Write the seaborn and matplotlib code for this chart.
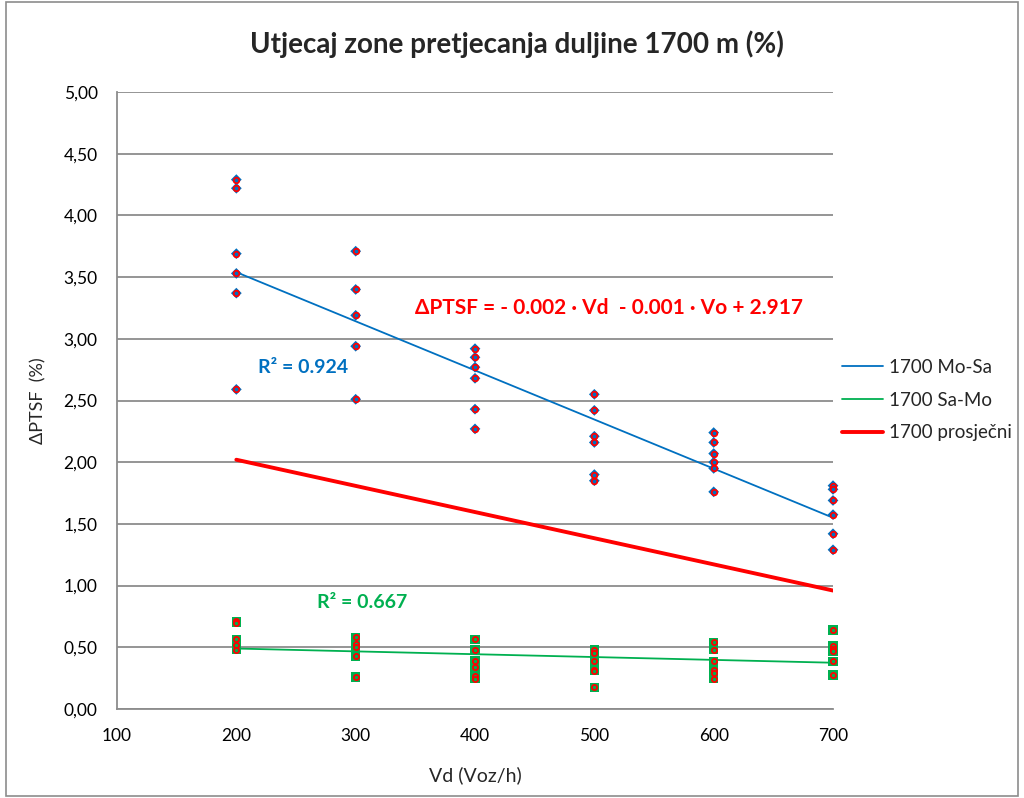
import numpy as np
import pandas as pd
import matplotlib.pyplot as plt
import seaborn as sns
from matplotlib.patches import Rectangle

# Measured points, 1700 m overtaking zone
mosa_vd = [200] * 6 + [300] * 5 + [400] * 6 + [500] * 6 + [600] * 6 + [700] * 6
mosa_ptsf = [4.29, 4.22, 3.69, 3.53, 3.37, 2.59,
             3.71, 3.40, 3.19, 2.94, 2.51,
             2.92, 2.85, 2.77, 2.68, 2.43, 2.27,
             2.55, 2.42, 2.21, 2.16, 1.90, 1.85,
             2.24, 2.16, 2.07, 2.00, 1.95, 1.76,
             1.81, 1.78, 1.69, 1.575, 1.42, 1.29]

samo_vd = [200] * 5 + [300] * 5 + [400] * 6 + [500] * 6 + [600] * 6 + [700] * 6
samo_ptsf = [0.71, 0.70, 0.565, 0.52, 0.48,
             0.58, 0.53, 0.505, 0.43, 0.26,
             0.565, 0.48, 0.39, 0.34, 0.27, 0.245,
             0.48, 0.45, 0.39, 0.32, 0.31, 0.175,
             0.54, 0.48, 0.385, 0.32, 0.29, 0.245,
             0.64, 0.51, 0.49, 0.47, 0.385, 0.275]

# Trend lines (end points)
trend_vd = [200, 700]
mosa_trend = [3.54, 1.55]
samo_trend = [0.49, 0.375]
prosjecni_trend = [2.02, 0.96]

xticks = [100, 200, 300, 400, 500, 600, 700]
yticks = [0, 0.5, 1, 1.5, 2, 2.5, 3, 3.5, 4, 4.5, 5]
ytick_labels = ['0,00', '0,50', '1,00', '1,50', '2,00', '2,50', '3,00', '3,50', '4,00', '4,50', '5,00']

blue = '#0070C0'
green = '#00B050'
red = '#FF0000'
grid_gray = '#8C8C8C'

sns.set_style('white')
plt.rcParams['font.family'] = ['Lato', 'DejaVu Sans']

fig = plt.figure(figsize=(10.24, 7.98), dpi=100)
ax = fig.add_axes([117 / 1024, 1 - 709 / 798, (833 - 117) / 1024, (709 - 92) / 798])

df_mosa = pd.DataFrame({'Vd': mosa_vd, 'PTSF': mosa_ptsf})
df_samo = pd.DataFrame({'Vd': samo_vd, 'PTSF': samo_ptsf})

# markers: blue diamond / green square with red ring
sns.scatterplot(data=df_mosa, x='Vd', y='PTSF', marker='D', color=blue, s=30,
                edgecolor='none', ax=ax, zorder=4, clip_on=False)
sns.scatterplot(data=df_mosa, x='Vd', y='PTSF', marker='o', color=blue, s=16,
                edgecolor=red, linewidth=1.3, ax=ax, zorder=5, clip_on=False)
sns.scatterplot(data=df_samo, x='Vd', y='PTSF', marker='s', color=green, s=46,
                edgecolor='none', ax=ax, zorder=4, clip_on=False)
sns.scatterplot(data=df_samo, x='Vd', y='PTSF', marker='o', color=green, s=14,
                edgecolor=red, linewidth=1.3, ax=ax, zorder=5, clip_on=False)

sns.lineplot(x=trend_vd, y=mosa_trend, color=blue, lw=1.3, ax=ax, zorder=3, label='1700 Mo-Sa')
sns.lineplot(x=trend_vd, y=samo_trend, color=green, lw=1.3, ax=ax, zorder=3, label='1700 Sa-Mo')
sns.lineplot(x=trend_vd, y=prosjecni_trend, color=red, lw=2.8, ax=ax, zorder=3, label='1700 prosječni')

ax.set_xlim(100, 700)
ax.set_ylim(0, 5)
ax.set_xticks(xticks)
ax.set_xticklabels([str(v) for v in xticks])
ax.set_yticks(yticks)
ax.set_yticklabels(ytick_labels)
ax.yaxis.grid(True, color=grid_gray, lw=1.3)
ax.set_axisbelow(True)
for side in ['top', 'right']:
    ax.spines[side].set_visible(False)
for side in ['left', 'bottom']:
    ax.spines[side].set_color(grid_gray)
    ax.spines[side].set_linewidth(1.3)
ax.tick_params(axis='both', direction='out', length=5, width=1.1, color=grid_gray,
               labelsize=12.5, labelcolor='black')
ax.tick_params(axis='y', pad=9)
ax.tick_params(axis='x', pad=9)

ax.set_xlabel('Vd (Voz/h)', fontsize=14)
ax.set_ylabel('ΔPTSF  (%)', fontsize=13)
ax.xaxis.set_label_coords(0.5, -0.092)
ax.yaxis.set_label_coords(-0.098, 0.5)

fig.text(0.505, 1 - 44 / 798, 'Utjecaj zone pretjecanja duljine 1700 m (%)',
         ha='center', va='center', fontsize=20, fontweight='bold')

ax.text(512, 3.25, 'ΔPTSF = - 0.002 · Vd  - 0.001 · Vo + 2.917', color=red,
        fontsize=15, fontweight='bold', ha='center', va='center')
ax.text(218, 2.77, 'R² = 0.924', color=blue, fontsize=14, fontweight='bold', va='center')
ax.text(268, 0.867, 'R² = 0.667', color=green, fontsize=14, fontweight='bold', va='center')

ax.legend(loc='center left', bbox_to_anchor=(842 / 1024, 1 - 400 / 798),
          bbox_transform=fig.transFigure, frameon=False, fontsize=13.5,
          borderpad=0, borderaxespad=0,
          handlelength=2.2, handletextpad=0.32, labelspacing=0.85)

# chart border
fig.patches.append(Rectangle((6 / 1024, 2 / 798), 1012 / 1024, 794 / 798,
                             transform=fig.transFigure, fill=False,
                             edgecolor='#8C8C8C', lw=1.2))

plt.savefig('out.png', dpi=100)
